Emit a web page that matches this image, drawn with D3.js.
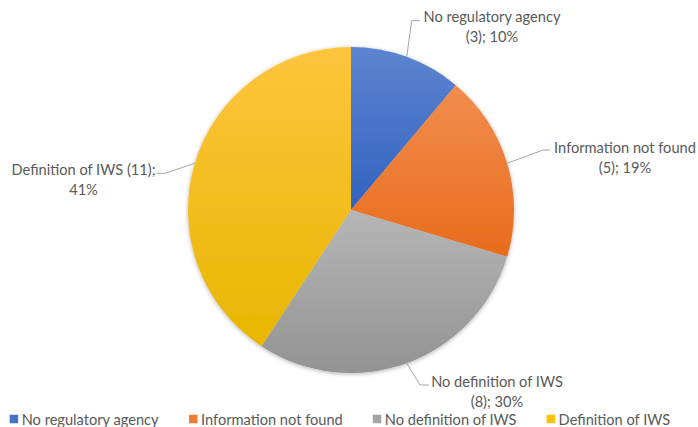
<!DOCTYPE html>
<html>
<head>
<meta charset="utf-8">
<script src="https://cdn.jsdelivr.net/npm/d3@7"></script>
<style>
  html, body { margin: 0; padding: 0; background: #fff; }
  svg { display: block; }
</style>
</head>
<body>
<svg id="chart" width="698" height="427"></svg>
<script>
// ---- data ----
const categories = ["No regulatory agency", "Information not found", "No definition of IWS", "Definition of IWS"];
const counts = [3, 5, 8, 11];
const percentLabels = ["10%", "19%", "30%", "41%"];
const baseColors = ["#4472C4", "#ED7D31", "#A5A5A5", "#FFC000"];
const lightColors = ["#5D84D0", "#F28D4E", "#B6B6B6", "#FFC53F"];
const darkColors = ["#3163C0", "#E86C1C", "#939393", "#E8B600"];

// ---- layout ----
const W = 698, H = 427;
const cx = 351, cy = 210, R = 163;
const fontFamily = "Lato, 'Open Sans', sans-serif";
const textColor = "#595959";

const svg = d3.select("#chart");
const defs = svg.append("defs");

// font size fitted to the reference text width
const probe = svg.append("text").attr("font-family", fontFamily).attr("font-size", 100).text("No regulatory agency");
const probeW = probe.node().getComputedTextLength();
probe.remove();
const fs = 100 * 137 / probeW;

// gradients
categories.forEach((c, i) => {
  const g = defs.append("linearGradient").attr("id", "grad" + i)
    .attr("x1", 0).attr("y1", 0).attr("x2", 0).attr("y2", 1);
  g.append("stop").attr("offset", "0%").attr("stop-color", lightColors[i]);
  g.append("stop").attr("offset", "100%").attr("stop-color", darkColors[i]);
});
const shadow = defs.append("filter").attr("id", "shadow")
  .attr("x", "-10%").attr("y", "-10%").attr("width", "120%").attr("height", "120%");
shadow.append("feDropShadow").attr("dx", 0).attr("dy", 1).attr("stdDeviation", 2)
  .attr("flood-color", "#000").attr("flood-opacity", 0.3);

const data = categories.map((c, i) => ({ name: c, value: counts[i], pct: percentLabels[i], i }));
const pie = d3.pie().value(d => d.value).sort(null);
const arcs = pie(data);
const arc = d3.arc().innerRadius(0).outerRadius(R);
const edgeArc = d3.arc().innerRadius(R).outerRadius(R);

const gPie = svg.append("g").attr("transform", `translate(${cx},${cy})`).attr("filter", "url(#shadow)");
gPie.selectAll("path").data(arcs).enter().append("path")
  .attr("d", arc)
  .attr("fill", d => `url(#grad${d.data.i})`);

// label placement (relative to chart), leader elbows
const labelLayout = [
  { lines: ["No regulatory agency", "(3); 10%"], x: 492, y: [16, 36], elbow: [411.7, 20.7], end: [420, 20.7] },
  { lines: ["Information not found", "(5); 19%"], x: 625, y: [147, 167], elbow: [543.3, 150], end: [550, 150] },
  { lines: ["No definition of IWS", "(8); 30%"], x: 497, y: [381, 401], elbow: [420, 385], end: [429, 385] },
  { lines: ["Definition of IWS (11);", "41%"], x: 83.5, y: [169, 189], elbow: [165, 173.3], end: [156.7, 173.3] }
];
// build line texts from data
arcs.forEach((a, k) => {
  const d = a.data;
  if (k === 3) labelLayout[k].lines = [`${d.name} (${d.value});`, d.pct];
  else labelLayout[k].lines = [d.name, `(${d.value}); ${d.pct}`];
});

const gLab = svg.append("g");
arcs.forEach((a, k) => {
  const L = labelLayout[k];
  const c = edgeArc.centroid(a);
  const start = [cx + c[0], cy + c[1]];
  gLab.append("polyline")
    .attr("points", [start, L.elbow, L.end].map(p => p.join(",")).join(" "))
    .attr("fill", "none").attr("stroke", "#A6A6A6").attr("stroke-width", 1);
  L.lines.forEach((t, j) => {
    gLab.append("text")
      .attr("x", L.x).attr("y", L.y[j])
      .attr("text-anchor", "middle").attr("dominant-baseline", "central")
      .attr("font-family", fontFamily).attr("font-size", fs).attr("fill", textColor)
      .text(t);
  });
});

// legend
const legendY = 419;
const sq = 8.5, gapSq = 3.5, gapItem = 30;
const gLeg = svg.append("g");
const items = gLeg.selectAll("g").data(data).enter().append("g");
items.append("rect").attr("width", sq).attr("height", sq).attr("y", legendY - sq / 2)
  .attr("fill", d => baseColors[d.i]);
items.append("text").attr("x", sq + gapSq).attr("y", legendY)
  .attr("dominant-baseline", "central")
  .attr("font-family", fontFamily).attr("font-size", fs).attr("fill", textColor)
  .text(d => d.name);
let widths = [];
items.each(function () { widths.push(this.getBBox().width); });
const total = d3.sum(widths) + gapItem * (widths.length - 1);
let x0 = 340 - total / 2;
items.attr("transform", (d, i) => {
  const x = x0;
  x0 += widths[i] + gapItem;
  return `translate(${x},0)`;
});
</script>
</body>
</html>
